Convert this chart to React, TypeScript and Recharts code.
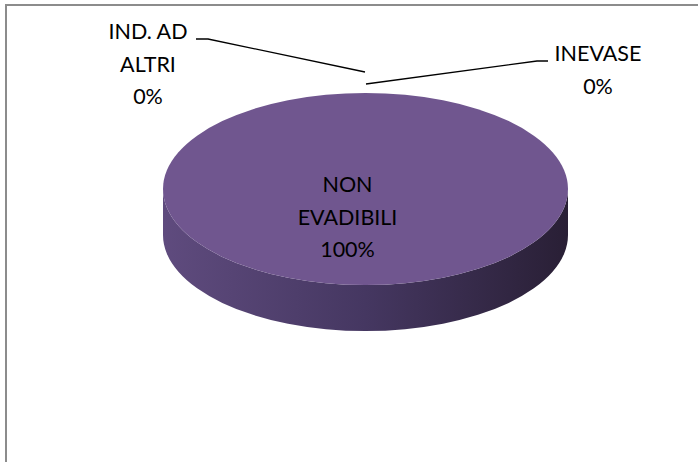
import React from 'react';
import { PieChart, Pie, Cell } from 'recharts';

// ---- data ----
const categories: string[] = ['NON EVADIBILI', 'IND. AD ALTRI', 'INEVASE'];
const values: number[] = [100, 0, 0];
const labelLines: string[][] = [['NON', 'EVADIBILI'], ['IND. AD', 'ALTRI'], ['INEVASE']];

const data = categories.map((name, i) => ({ name, value: values[i], lines: labelLines[i] }));

// ---- style / layout ----
const W = 698;
const H = 462;
const CX = 365.5;
const CY = 189;
const RX = 202.5;
const RATIO = 96 / 202.5; // vertical squash of the 3D tilt
const DEPTH = 46;
const TOP_FILL = '#70568f';
const FONT = 'Lato, "Open Sans", sans-serif';
const FONT_SIZE = 21.5;
const LINE_H = 32.5;

// label layout relative to the point on the pie rim at the slice's mid-angle
const labelLayout = [
  { inside: true, tx: -18, ty: 3 },
  { inside: false, line: [[-0.5, -21], [-157.5, -54], [-169.5, -54]], tx: -217.5, ty: -54, anchor: 'middle' },
  { inside: false, line: [[0.5, -9], [171.5, -32], [182.5, -32]], tx: 232.5, ty: -32, anchor: 'middle' },
];

const rad = Math.PI / 180;

function ellPoint(cx: number, cy: number, rx: number, ry: number, a: number) {
  return [cx + rx * Math.cos(-a * rad), cy + ry * Math.sin(-a * rad)];
}

const Slice3D = (props: any) => {
  const { cx, cy, outerRadius, startAngle, endAngle } = props;
  const rx = outerRadius;
  const ry = outerRadius * RATIO;
  const sweepDeg = Math.abs(endAngle - startAngle);
  if (sweepDeg < 0.01) return <g />;
  if (sweepDeg >= 359.99) {
    const side = `M ${cx - rx} ${cy} L ${cx - rx} ${cy + DEPTH} A ${rx} ${ry} 0 0 0 ${cx + rx} ${cy + DEPTH} L ${cx + rx} ${cy} A ${rx} ${ry} 0 0 1 ${cx - rx} ${cy} Z`;
    return (
      <g>
        <path d={side} fill="url(#sideGrad)" />
        <ellipse cx={cx} cy={cy} rx={rx} ry={ry} fill={TOP_FILL} />
      </g>
    );
  }
  const [x1, y1] = ellPoint(cx, cy, rx, ry, startAngle);
  const [x2, y2] = ellPoint(cx, cy, rx, ry, endAngle);
  const large = sweepDeg > 180 ? 1 : 0;
  const sweepFlag = endAngle < startAngle ? 1 : 0;
  return (
    <path
      d={`M ${cx} ${cy} L ${x1} ${y1} A ${rx} ${ry} 0 ${large} ${sweepFlag} ${x2} ${y2} Z`}
      fill={TOP_FILL}
    />
  );
};

const renderLabel = (props: any) => {
  const { cx, cy, outerRadius, midAngle, percent, index } = props;
  const entry = data[index];
  const layout = labelLayout[index];
  const rx = outerRadius;
  const ry = outerRadius * RATIO;
  const pct = `${Math.round(percent * 100)}%`;
  const lines = [...entry.lines, pct];
  if (layout.inside) {
    const x = cx + layout.tx;
    const y0 = cy + layout.ty;
    return (
      <text key={`l${index}`} x={x} y={y0} textAnchor="middle" fontFamily={FONT} fontSize={FONT_SIZE} fill="#000">
        {lines.map((t, i) => (
          <tspan key={i} x={x} y={y0 + i * LINE_H}>{t}</tspan>
        ))}
      </text>
    );
  }
  const [px, py] = ellPoint(cx, cy, rx, ry, midAngle);
  const pts = (layout.line as number[][]).map(([dx, dy]) => `${px + dx},${py + dy}`).join(' ');
  const tx = px + (layout.tx as number);
  const ty = py + (layout.ty as number);
  return (
    <g key={`l${index}`}>
      <polyline points={pts} fill="none" stroke="#000" strokeWidth={1.3} />
      <text x={tx} y={ty} textAnchor="middle" fontFamily={FONT} fontSize={FONT_SIZE} fill="#000">
        {lines.map((t, i) => (
          <tspan key={i} x={tx} y={ty + i * LINE_H}>{t}</tspan>
        ))}
      </text>
    </g>
  );
};

export default function App() {
  return (
    <div style={{ position: 'absolute', left: 0, top: 0, width: W, height: H, overflow: 'hidden', background: '#fff' }}>
      <div
        style={{
          position: 'absolute',
          left: 5,
          top: 4,
          width: 900,
          height: 700,
          border: '2px solid #8c8c8c',
          boxSizing: 'border-box',
        }}
      />
      <div style={{ position: 'absolute', left: 0, top: 0 }}>
        <PieChart width={W} height={H} margin={{ top: 0, right: 0, bottom: 0, left: 0 }}>
          <defs>
            <linearGradient id="sideGrad" x1="0" y1="0" x2="1" y2="0">
              <stop offset="0%" stopColor="#5f4b7e" />
              <stop offset="50%" stopColor="#453761" />
              <stop offset="100%" stopColor="#291f35" />
            </linearGradient>
          </defs>
          <Pie
            data={data}
            dataKey="value"
            nameKey="name"
            cx={CX}
            cy={CY}
            outerRadius={RX}
            startAngle={90}
            endAngle={-270}
            stroke="none"
            isAnimationActive={false}
            shape={Slice3D}
            label={renderLabel}
            labelLine={false}
          >
            {data.map((d, i) => (
              <Cell key={i} fill={TOP_FILL} />
            ))}
          </Pie>
        </PieChart>
      </div>
    </div>
  );
}
